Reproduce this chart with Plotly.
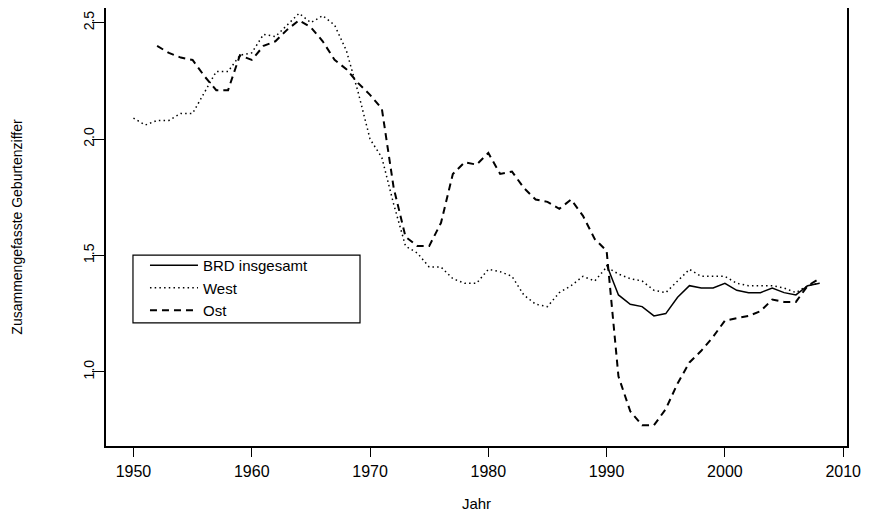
import plotly.graph_objects as go

# Zusammengefasste Geburtenziffer (TFR)
years_west = list(range(1950, 2009))
west = [2.09, 2.06, 2.08, 2.08, 2.11, 2.11, 2.20, 2.29, 2.29, 2.36,
        2.37, 2.45, 2.44, 2.49, 2.54, 2.50, 2.53, 2.49, 2.38, 2.20,
        2.00, 1.92, 1.72, 1.54, 1.51, 1.45, 1.45, 1.40, 1.38, 1.38,
        1.44, 1.43, 1.41, 1.33, 1.29, 1.28, 1.34, 1.37, 1.41, 1.39,
        1.45, 1.42, 1.40, 1.39, 1.35, 1.34, 1.39, 1.44, 1.41, 1.41,
        1.41, 1.38, 1.37, 1.37, 1.37, 1.36, 1.34, 1.37, 1.38]

years_ost = list(range(1952, 2009))
ost = [2.40, 2.37, 2.35, 2.34, 2.27, 2.21, 2.21, 2.36,
       2.34, 2.40, 2.42, 2.47, 2.51, 2.48, 2.42, 2.34, 2.30, 2.24,
       2.19, 2.13, 1.79, 1.58, 1.54, 1.54, 1.64, 1.85, 1.90, 1.89,
       1.94, 1.85, 1.86, 1.79, 1.74, 1.73, 1.70, 1.74, 1.67, 1.57,
       1.52, 0.98, 0.83, 0.77, 0.77, 0.84, 0.95, 1.04, 1.09, 1.15,
       1.22, 1.23, 1.24, 1.26, 1.31, 1.30, 1.30, 1.37, 1.40]

years_brd = list(range(1990, 2009))
brd = [1.46, 1.33, 1.29, 1.28, 1.24, 1.25, 1.32, 1.37, 1.36, 1.36,
       1.38, 1.35, 1.34, 1.34, 1.36, 1.34, 1.33, 1.37, 1.38]

x_ticks = [1950, 1960, 1970, 1980, 1990, 2000, 2010]
y_ticks = [1.0, 1.5, 2.0, 2.5]

FONT = "Liberation Sans, Arial, sans-serif"

fig = go.Figure()

fig.add_trace(go.Scatter(
    x=years_brd, y=brd, mode="lines", name="BRD insgesamt",
    line=dict(color="black", width=1.5)
))
fig.add_trace(go.Scatter(
    x=years_west, y=west, mode="lines", name="West",
    line=dict(color="black", width=1.5, dash="1.5px,3.2px")
))
fig.add_trace(go.Scatter(
    x=years_ost, y=ost, mode="lines", name="Ost",
    line=dict(color="black", width=2, dash="7px,5px")
))

# legend frame (R-style box)
fig.add_shape(
    type="rect", xref="paper", yref="paper",
    x0=0.0364, x1=0.3428, y0=0.281, y1=0.436,
    line=dict(color="black", width=1.2), fillcolor="rgba(0,0,0,0)"
)

# the page body adds an 8px offset, so the figure is sized 8px smaller
fig.update_layout(
    width=863, height=509,
    margin=dict(l=98, r=24, t=0, b=71),
    paper_bgcolor="white", plot_bgcolor="white",
    font=dict(family=FONT, color="black", size=15),
    showlegend=True,
    legend=dict(
        x=0.0526, y=0.450, xanchor="left", yanchor="top",
        bgcolor="rgba(0,0,0,0)", borderwidth=0,
        font=dict(size=15), itemwidth=48
    ),
    xaxis=dict(
        range=[1947.68, 2010.32], tickvals=x_ticks,
        showgrid=False, zeroline=False,
        showline=True, mirror=True, linecolor="black", linewidth=1.5,
        ticks="outside", ticklen=9, tickwidth=1.2, tickcolor="black",
        ticklabelstandoff=1, tickfont=dict(size=16),
        title=dict(text="Jahr", font=dict(size=15), standoff=20),
        automargin=False
    ),
    yaxis=dict(
        range=[0.681, 2.563], tickvals=y_ticks, tickformat=".1f",
        tickangle=-90,
        showgrid=False, zeroline=False,
        showline=True, mirror=True, linecolor="black", linewidth=1.5,
        ticks="outside", ticklen=12, tickwidth=1.2, tickcolor="black",
        ticklabelstandoff=-7, tickfont=dict(size=14),
        title=dict(text="Zusammengefasste Geburtenziffer", font=dict(size=14), standoff=55),
        automargin=False
    ),
)

fig.write_html("out.html")
